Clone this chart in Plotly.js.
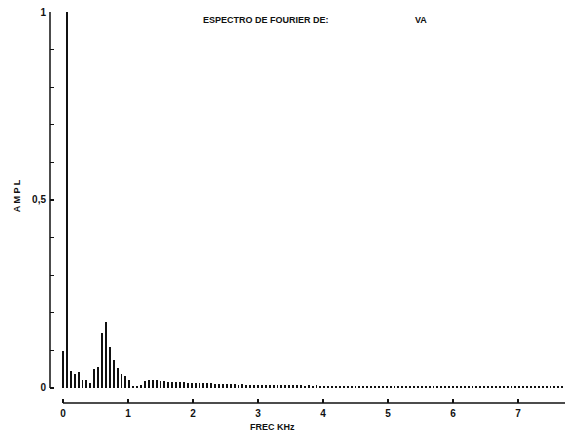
<!DOCTYPE html>
<html>
<head>
<meta charset="utf-8">
<script src="https://cdn.plot.ly/plotly-3.0.1.min.js"></script>
<style>html,body{margin:0;padding:0;background:#fff;}</style>
</head>
<body>
<div id="chart" style="width:569px;height:434px;"></div>
<script>
// Harmonic number (fundamental 60 Hz) -> frequency in kHz via step
const harmonicStepKHz = 0.06;
const amplitudes = [
  0.097, 1.0, 0.045, 0.037, 0.042, 0.020, 0.021, 0.013, 0.050, 0.057,
  0.145, 0.176, 0.110, 0.075, 0.054, 0.036, 0.033, 0.021, 0.006, 0.005,
  0.008, 0.018, 0.021, 0.021, 0.020, 0.019, 0.018, 0.017, 0.016, 0.016,
  0.015, 0.015, 0.014, 0.014, 0.013, 0.013, 0.012, 0.012, 0.012, 0.011,
  0.011, 0.011, 0.010, 0.010, 0.010, 0.009, 0.010, 0.009, 0.009, 0.008,
  0.009, 0.008, 0.008, 0.008, 0.007, 0.008, 0.007, 0.007, 0.007, 0.007,
  0.007, 0.007, 0.006, 0.007, 0.006, 0.007, 0.006, 0.006, 0.006, 0.006,
  0.006, 0.006, 0.006, 0.005, 0.006, 0.006, 0.005, 0.006, 0.005, 0.006,
  0.005, 0.005, 0.006, 0.005, 0.005, 0.005, 0.006, 0.005, 0.005, 0.005,
  0.005, 0.005, 0.005, 0.005, 0.004, 0.005, 0.005, 0.005, 0.005, 0.005,
  0.005, 0.005, 0.005, 0.005, 0.005, 0.005, 0.004, 0.005, 0.005, 0.004,
  0.005, 0.005, 0.004, 0.005, 0.004, 0.005, 0.004, 0.004, 0.005, 0.004,
  0.004, 0.005, 0.004, 0.004, 0.004, 0.004, 0.004, 0.004, 0.004
];
const freqs = amplitudes.map((_, i) => i * harmonicStepKHz);

const xTickVals = [0, 1, 2, 3, 4, 5, 6, 7];
const xTickText = ['0', '1', '2', '3', '4', '5', '6', '7'];
const yTickVals = [0, 0.1, 0.2, 0.3, 0.4, 0.5, 0.6, 0.7, 0.8, 0.9, 1];
const yTickText = ['0', '', '', '', '', '0,5', '', '', '', '', '1'];

const titleText = 'ESPECTRO DE FOURIER DE:';
const signalName = 'VA';
const xTitle = 'FREC KHz';
const yTitle = 'A M P L';

const FONT = 'Liberation Sans, Arial, sans-serif';

const trace = {
  type: 'bar',
  x: freqs,
  y: amplitudes,
  width: 0.028,
  marker: {color: '#111', line: {width: 0}},
  hoverinfo: 'skip'
};

const layout = {
  width: 569, height: 434,
  margin: {l: 50, r: 4, t: 12, b: 31},
  paper_bgcolor: '#fff', plot_bgcolor: '#fff',
  showlegend: false,
  bargap: 0,
  xaxis: {
    range: [-0.2, 7.723],
    showgrid: false, zeroline: false, showline: false,
    tickmode: 'array', tickvals: xTickVals, ticktext: xTickText,
    ticks: 'inside', ticklen: 4, tickwidth: 1.2, tickcolor: '#111',
    ticklabelstandoff: 3,
    tickfont: {family: FONT, size: 10, color: '#111', weight: 'bold'}
  },
  yaxis: {
    range: [-0.04, 1],
    showgrid: false, zeroline: false, showline: false,
    tickmode: 'array', tickvals: yTickVals, ticktext: yTickText,
    ticks: 'inside', ticklen: 4, tickwidth: 1.2, tickcolor: '#111',
    ticklabelstandoff: 3,
    tickfont: {family: FONT, size: 10, color: '#111', weight: 'bold'}
  },
  shapes: [
    {type: 'line', xref: 'x', yref: 'paper', x0: 0, x1: 7.723, y0: 0, y1: 0,
     line: {color: '#111', width: 1.5}},
    {type: 'line', xref: 'paper', yref: 'y', x0: 0, x1: 0, y0: 0, y1: 1,
     line: {color: '#111', width: 1.5}}
  ],
  annotations: [
    {text: titleText, xref: 'x', yref: 'y', x: 2.12, y: 0.979, xanchor: 'left', yanchor: 'middle',
     showarrow: false, font: {family: FONT, size: 9, color: '#111', weight: 'bold'}},
    {text: signalName, xref: 'x', yref: 'y', x: 5.38, y: 0.979, xanchor: 'left', yanchor: 'middle',
     showarrow: false, font: {family: FONT, size: 9, color: '#111', weight: 'bold'}},
    {text: xTitle, xref: 'x', yref: 'paper', x: 3.23, y: -0.061, xanchor: 'center', yanchor: 'middle',
     showarrow: false, font: {family: FONT, size: 9, color: '#111', weight: 'bold'}},
    {text: yTitle, xref: 'paper', yref: 'y', x: -0.064, y: 0.51, xanchor: 'center', yanchor: 'middle',
     textangle: -90, showarrow: false, font: {family: FONT, size: 9, color: '#111', weight: 'bold'}}
  ]
};

Plotly.newPlot('chart', [trace], layout, {displayModeBar: false, staticPlot: true});
</script>
</body>
</html>
